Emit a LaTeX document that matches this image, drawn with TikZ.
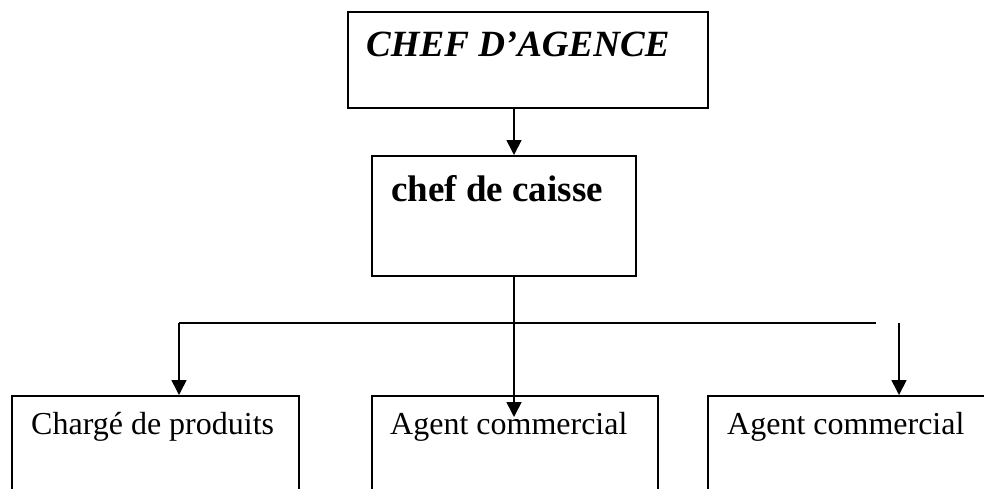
\documentclass[tikz,border=0pt]{standalone}
\usepackage{fontspec}
\setmainfont{Liberation Serif}
\usetikzlibrary{positioning,arrows.meta}
\tikzset{
  box/.style  ={draw, line width=1.6pt, inner sep=0pt, anchor=north west},
  txt/.style  ={anchor=base west, inner sep=0pt},
  big/.style  ={txt, font=\fontsize{37}{42}\selectfont\bfseries},
  small/.style={txt, font=\fontsize{32}{38}\selectfont},
  fl/.style   ={-{Triangle[length=15pt,width=15pt]}, line width=1.6pt},
  ln/.style   ={line width=1.6pt}
}

\begin{document}
\begin{tikzpicture}[x=1pt,y=-1pt]
  \clip (0,0) rectangle (984,488);

  % boxes
  \node[box, minimum width=360pt, minimum height=96pt](chef) at (347,11){};
  \node[box, minimum width=264pt, minimum height=120pt](caisse) at (371,155){};
  \node[box, minimum width=287pt, minimum height=110pt](prod) at (11,395){};
  \node[box, minimum width=286pt, minimum height=110pt](agentA) at (371,395){};
  \node[box, minimum width=287pt, minimum height=110pt](agentB) at (707,395){};

  % labels
  \node[big, font=\fontsize{37}{42}\selectfont\bfseries\itshape](chefT)
        at ([shift={(19pt,-45pt)}]chef.north west){CHEF D’AGENCE};
  \node[big](caisseT) at ([shift={(20pt,-46pt)}]caisse.north west){chef de caisse};
  \node[small](prodT) at ([shift={(20pt,-39pt)}]prod.north west){Chargé de produits};
  \node[small](agentAT) at ([shift={(19pt,-39pt)}]agentA.north west){Agent commercial};
  \node[small](agentBT) at ([shift={(20pt,-39pt)}]agentB.north west){Agent commercial};

  % connectors
  \coordinate (spine) at (514,323);
  \coordinate (hl) at (179,323);
  \coordinate (hr) at (876,323);
  \coordinate (rt) at (899,323);
  \coordinate (tip) at (514,417);
  \draw[fl](chef.south -| spine) -- (caisse.north -| spine);
  \draw[fl](caisse.south -| spine) -- (tip);
  \draw[ln](hl) -- (hr);
  \draw[fl](hl) -- (hl |- prod.north);
  \draw[fl](rt) -- (rt |- agentB.north);
\end{tikzpicture}
\end{document}
